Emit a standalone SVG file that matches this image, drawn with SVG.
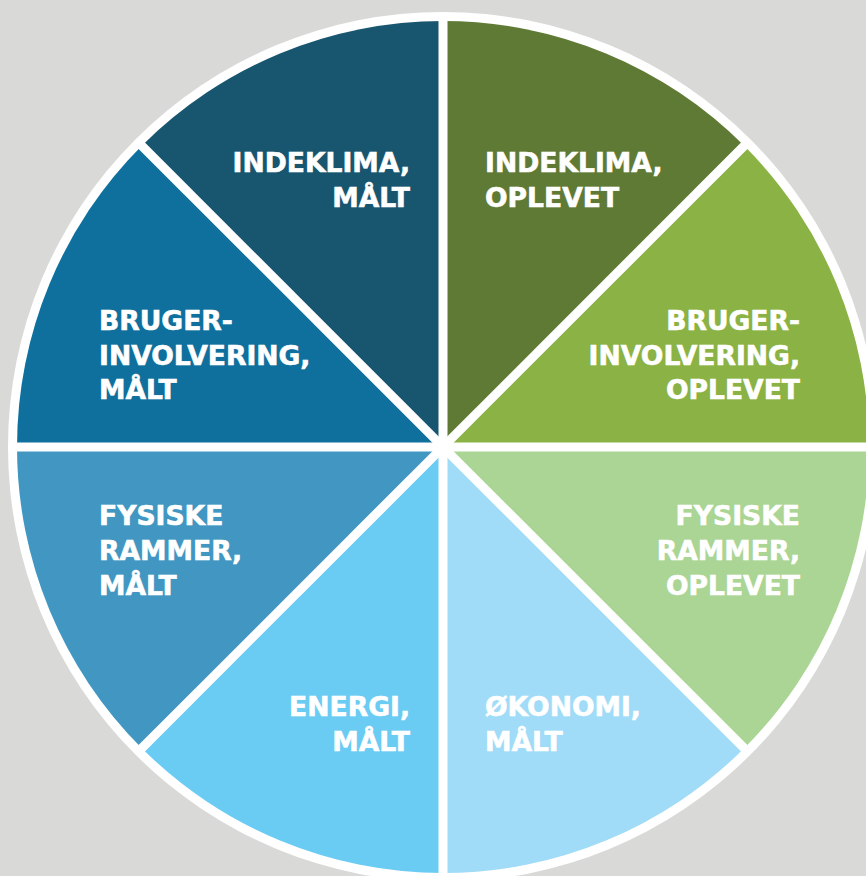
<svg xmlns="http://www.w3.org/2000/svg" width="866" height="876" viewBox="0 0 866 876">
<style>
.lbl{font-family:"DejaVu Sans","Liberation Sans",sans-serif;font-weight:bold;font-size:26.6px;fill:#ffffff;stroke:#ffffff;stroke-width:0.6px}
.r{text-anchor:end}
.div{stroke:#ffffff;stroke-width:9;fill:none}
</style>
<rect x="0" y="0" width="866" height="876" fill="#d9d9d7"/>
<circle cx="443" cy="447" r="435" fill="#ffffff"/>
<g id="indeklima-oplevet">
<path d="M443,447 L443,21 A426,426 0 0 1 744.2,145.8 Z" fill="#5f7a34"/>
<text class="lbl" x="485" y="172">INDEKLIMA,</text>
<text class="lbl" x="485" y="207">OPLEVET</text>
</g>
<g id="bruger-oplevet">
<path d="M443,447 L744.2,145.8 A426,426 0 0 1 869,447 Z" fill="#8ab244"/>
<text class="lbl r" x="800" y="330">BRUGER-</text>
<text class="lbl r" x="800" y="365">INVOLVERING,</text>
<text class="lbl r" x="800" y="399">OPLEVET</text>
</g>
<g id="fysiske-oplevet">
<path d="M443,447 L869,447 A426,426 0 0 1 744.2,748.2 Z" fill="#aad594"/>
<text class="lbl r" x="800" y="525">FYSISKE</text>
<text class="lbl r" x="800" y="560">RAMMER,</text>
<text class="lbl r" x="800" y="595">OPLEVET</text>
</g>
<g id="oekonomi-maalt">
<path d="M443,447 L744.2,748.2 A426,426 0 0 1 443,873 Z" fill="#a0dbf7"/>
<text class="lbl" x="485" y="716">ØKONOMI,</text>
<text class="lbl" x="485" y="751">MÅLT</text>
</g>
<g id="energi-maalt">
<path d="M443,447 L443,873 A426,426 0 0 1 141.8,748.2 Z" fill="#6acbf3"/>
<text class="lbl r" x="410" y="716">ENERGI,</text>
<text class="lbl r" x="410" y="751">MÅLT</text>
</g>
<g id="fysiske-maalt">
<path d="M443,447 L141.8,748.2 A426,426 0 0 1 17,447 Z" fill="#4197c2"/>
<text class="lbl" x="99" y="525">FYSISKE</text>
<text class="lbl" x="99" y="560">RAMMER,</text>
<text class="lbl" x="99" y="595">MÅLT</text>
</g>
<g id="bruger-maalt">
<path d="M443,447 L17,447 A426,426 0 0 1 141.8,145.8 Z" fill="#0f709d"/>
<text class="lbl" x="99" y="330">BRUGER-</text>
<text class="lbl" x="99" y="365">INVOLVERING,</text>
<text class="lbl" x="99" y="399">MÅLT</text>
</g>
<g id="indeklima-maalt">
<path d="M443,447 L141.8,145.8 A426,426 0 0 1 443,21 Z" fill="#18566f"/>
<text class="lbl r" x="410" y="172">INDEKLIMA,</text>
<text class="lbl r" x="410" y="207">MÅLT</text>
</g>
<g id="connectors">
<line class="div" x1="443" y1="15" x2="443" y2="879"/>
<line class="div" x1="11" y1="447" x2="875" y2="447"/>
<line class="div" x1="137.5" y1="141.5" x2="748.5" y2="752.5"/>
<line class="div" x1="748.5" y1="141.5" x2="137.5" y2="752.5"/>
</g>
</svg>
